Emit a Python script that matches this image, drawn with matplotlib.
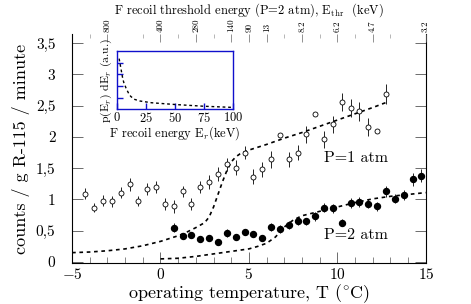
import numpy as np
import matplotlib.pyplot as plt

plt.rcParams['font.family'] = ['cmr10', 'DejaVu Serif']
plt.rcParams['mathtext.fontset'] = 'cm'
plt.rcParams['axes.unicode_minus'] = False
plt.rcParams['axes.formatter.use_mathtext'] = True

# P=1 atm (open circles)
t1 = [-4.25, -3.75, -3.25, -2.75, -2.25, -1.75, -1.25, -0.75, -0.25, 0.25, 0.75, 1.25,
      1.75, 2.25, 2.75, 3.25, 3.75, 4.25, 4.75, 5.25, 5.75, 6.25, 6.75, 7.25, 7.75,
      8.25, 8.75, 9.25, 9.75, 10.25, 10.75, 11.25, 11.75, 12.25, 12.75]
r1 = [1.09, 0.87, 0.98, 0.97, 1.11, 1.24, 0.98, 1.17, 1.20, 0.93, 0.89, 1.13,
      0.93, 1.20, 1.28, 1.41, 1.56, 1.51, 1.75, 1.36, 1.48, 1.64, 2.03, 1.64, 1.75,
      2.04, 2.36, 1.96, 2.20, 2.56, 2.46, 2.41, 2.16, 2.09, 2.68]
e1 = [0.09, 0.07, 0.09, 0.09, 0.09, 0.1, 0.08, 0.1, 0.1, 0.1, 0.1, 0.09,
      0.1, 0.1, 0.11, 0.11, 0.11, 0.12, 0.11, 0.12, 0.12, 0.13, 0.0, 0.12, 0.12,
      0.13, 0.0, 0.14, 0.14, 0.14, 0.14, 0.15, 0.14, 0.0, 0.16]

# P=2 atm (filled circles)
t2 = [0.75, 1.25, 1.75, 2.25, 2.75, 3.25, 3.75, 4.25, 4.75, 5.25, 5.75, 6.25, 6.75,
      7.25, 7.75, 8.25, 8.75, 9.25, 9.75, 10.25, 10.75, 11.25, 11.75, 12.25, 12.75,
      13.25, 13.75, 14.25, 14.75]
r2 = [0.55, 0.42, 0.43, 0.37, 0.39, 0.32, 0.46, 0.40, 0.48, 0.45, 0.39, 0.56, 0.53,
      0.59, 0.65, 0.65, 0.73, 0.87, 0.86, 0.63, 0.94, 0.96, 0.93, 0.89, 1.13,
      1.01, 1.07, 1.32, 1.38]
e2 = [0.07, 0.05, 0.05, 0.05, 0.05, 0.05, 0.06, 0.05, 0.05, 0.05, 0.05, 0.07, 0.06,
      0.06, 0.06, 0.06, 0.07, 0.07, 0.07, 0.06, 0.08, 0.08, 0.07, 0.07, 0.09,
      0.07, 0.08, 0.1, 0.1]

# model curves
ft1 = [-5, -4, -3, -2, -1, 0, 1, 1.5, 2, 2.5, 2.75, 3, 3.25, 3.5, 3.75, 4, 4.25,
       4.5, 5, 6, 7, 8, 9, 10, 11, 12, 12.75]
fy1 = [0.15, 0.16, 0.18, 0.21, 0.26, 0.33, 0.42, 0.48, 0.55, 0.63, 0.72, 0.88, 1.08,
       1.28, 1.46, 1.60, 1.68, 1.73, 1.79, 1.88, 1.98, 2.07, 2.17, 2.27, 2.37, 2.47, 2.55]
ft2 = [0, 1, 2, 3, 4, 5, 5.5, 6, 6.5, 7, 7.5, 8, 9, 10, 11, 12, 13, 14, 15]
fy2 = [0.05, 0.06, 0.09, 0.13, 0.17, 0.21, 0.25, 0.30, 0.40, 0.56, 0.67, 0.74, 0.81,
       0.88, 0.95, 1.01, 1.05, 1.08, 1.11]

# top axis: threshold energy
top_pos = [-3, 0, 2, 4, 5, 6, 8, 10, 12, 15]
top_lab = ['800', '400', '280', '140', '90', '13', '8.2', '6.2', '4.7', '3.2']
top_minor = [-4, -1, 1, 3, 7, 9, 11, 13]

# inset: recoil spectrum
ie = [2, 3, 4, 5, 6, 8, 10, 12, 15, 20, 30, 50, 75, 100]
ip = [0.87, 0.76, 0.65, 0.54, 0.46, 0.36, 0.28, 0.22, 0.17, 0.14, 0.11, 0.08, 0.05, 0.03]

yticks = [0, 0.5, 1, 1.5, 2, 2.5, 3, 3.5]
ylabels = ['0', '0,5', '1', '1,5', '2', '2,5', '3', '3,5']

fig = plt.figure(figsize=(4.71, 3.04), dpi=100)
ax = fig.add_axes([0.153, 0.135, 0.751, 0.752])

ax.plot(ft1, fy1, color='black', linestyle=(0, (2.2, 2.2)), lw=1.2)
ax.plot(ft2, fy2, color='black', linestyle=(0, (2.2, 2.2)), lw=1.2)
ax.errorbar(t1, r1, yerr=e1, fmt='o', ms=3.6, mfc='white', mec='black', mew=0.6,
            ecolor='black', elinewidth=0.6, capsize=0)
ax.errorbar(t2, r2, yerr=e2, fmt='o', ms=4.3, mfc='black', mec='black',
            ecolor='black', elinewidth=0.6, capsize=0)

ax.text(9.25, 1.66, 'P=1 atm', fontsize=11.5, va='center')
ax.text(9.25, 0.43, 'P=2 atm', fontsize=11.5, va='center')

ax.set_xlim(-5, 15)
ax.set_ylim(-0.015, 3.64)
ax.set_xticks([-5, 0, 5, 10, 15])
ax.set_xticks(np.arange(-5, 16, 1), minor=True)
ax.set_yticks(yticks)
ax.set_yticklabels(ylabels)
ax.tick_params(axis='both', which='major', direction='in', length=8, width=0.6,
               labelsize=11, top=False, right=True, color='#555555')
ax.tick_params(axis='x', which='minor', direction='in', length=4, width=0.5,
               top=False, color='#555555')
ax.tick_params(axis='y', which='major', pad=12)
ax.tick_params(axis='x', which='major', pad=3)
ax.spines['top'].set_visible(False)
for s in ['left', 'bottom', 'right']:
    ax.spines[s].set_linewidth(0.8)
ax.set_xlabel(r'operating temperature, T $\mathrm{(^{\circ}C)}$', fontsize=13, labelpad=0)
ax.set_ylabel('counts / g R-115 / minute', fontsize=13, labelpad=4)

top = ax.twiny()
top.set_xlim(ax.get_xlim())
top.set_xticks(top_pos)
top.set_xticklabels(top_lab, rotation=90)
top.set_xticks(top_minor, minor=True)
top.tick_params(axis='x', which='major', direction='in', length=6, width=0.5,
                labelsize=6.5, pad=1.5, color='#666666')
top.tick_params(axis='x', which='minor', direction='in', length=3, width=0.5,
                color='#999999')
for s in top.spines.values():
    s.set_visible(False)
fig.text(0.528, 0.995, r'F recoil threshold energy (P=2 atm), E$_{\rm thr}$  (keV)',
         fontsize=9, ha='center', va='top')

ins = fig.add_axes([0.248, 0.641, 0.246, 0.191])
ins.plot(ie, ip, color='black', linestyle=(0, (2, 2)), lw=1.0)
ins.set_xlim(0, 100)
ins.set_ylim(0, 1)
ins.set_xticks([0, 25, 50, 75, 100])
ins.set_yticks([0.2, 0.4, 0.6, 0.8])
ins.set_yticklabels([])
for s in ins.spines.values():
    s.set_color('#1010cc')
    s.set_linewidth(1.0)
ins.tick_params(axis='both', direction='in', length=4, width=1.0, color='#1010cc',
                labelsize=9, pad=1)
ins.set_xlabel(r'F recoil energy E$_r$(keV)', fontsize=9, labelpad=0)
ins.set_ylabel(r'p(E$_r$) dE$_r$ (a.u.)', fontsize=8.5, labelpad=1)

fig.savefig('out.png', dpi=100)
